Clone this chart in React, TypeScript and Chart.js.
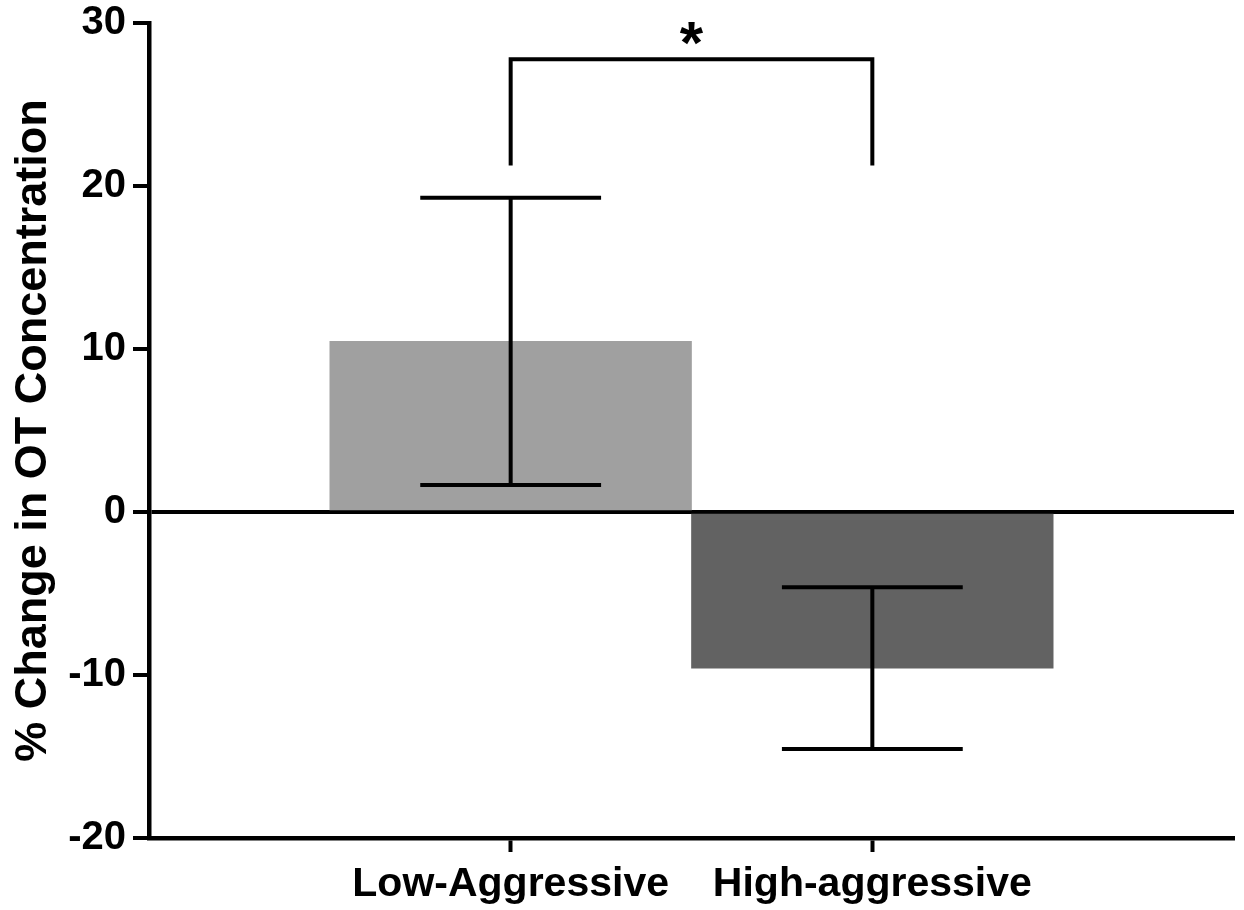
import React, { useEffect, useRef } from 'react';
import { Chart, registerables } from 'chart.js';

Chart.register(...registerables);

// ---- data ----
const categories: string[] = ['', 'Low-Aggressive', 'High-aggressive', ''];
const meanChange: (number | null)[] = [null, 10.47, -9.58, null];
const semChange: (number | null)[] = [null, 8.81, 4.96, null];
const barColors: string[] = ['#a0a0a0', '#a0a0a0', '#626262', '#626262'];
const yMin = -20;
const yMax = 30;
const yStep = 10;
const yTitle = '% Change in OT Concentration';
// significance bracket
const bracketFrom = 1;
const bracketTo = 2;
const bracketTop = 27.77;
const bracketBottom = 21.26;
const sigLabel = '*';

const FONT = '"Liberation Sans", Arial, Helvetica, sans-serif';

const overlayPlugin = {
  id: 'errorBarsAndSig',
  afterDraw(chart: any) {
    const ctx = chart.ctx;
    const y = chart.scales.y;
    const meta = chart.getDatasetMeta(0);
    ctx.save();
    ctx.strokeStyle = '#000';
    ctx.lineWidth = 4;
    ctx.lineCap = 'butt';
    meta.data.forEach((bar: any, i: number) => {
      const m = meanChange[i];
      const s = semChange[i];
      if (m == null || s == null) return;
      const x = bar.x;
      const half = bar.width * 0.25;
      const yt = y.getPixelForValue(m + s);
      const yb = y.getPixelForValue(m - s);
      ctx.beginPath();
      ctx.moveTo(x, yt);
      ctx.lineTo(x, yb);
      ctx.moveTo(x - half, yt);
      ctx.lineTo(x + half, yt);
      ctx.moveTo(x - half, yb);
      ctx.lineTo(x + half, yb);
      ctx.stroke();
    });
    const x1 = meta.data[bracketFrom].x;
    const x2 = meta.data[bracketTo].x;
    const yTop = y.getPixelForValue(bracketTop);
    const yBot = y.getPixelForValue(bracketBottom);
    ctx.lineJoin = 'miter';
    ctx.beginPath();
    ctx.moveTo(x1, yBot);
    ctx.lineTo(x1, yTop);
    ctx.lineTo(x2, yTop);
    ctx.lineTo(x2, yBot);
    ctx.stroke();
    ctx.fillStyle = '#000';
    ctx.font = `bold 60px ${FONT}`;
    ctx.textAlign = 'center';
    ctx.textBaseline = 'alphabetic';
    ctx.fillText(sigLabel, (x1 + x2) / 2, yTop + 4);
    ctx.restore();
  },
};

export default function App() {
  const canvasRef = useRef<HTMLCanvasElement | null>(null);

  useEffect(() => {
    if (!canvasRef.current) return;
    const chart = new Chart(canvasRef.current, {
      type: 'bar',
      data: {
        labels: categories,
        datasets: [
          {
            data: meanChange as any,
            backgroundColor: barColors,
            borderWidth: 0,
            categoryPercentage: 1,
            barPercentage: 1,
          },
        ],
      },
      options: {
        animation: false,
        responsive: true,
        maintainAspectRatio: false,
        layout: { padding: { left: 0, top: 23, right: 10, bottom: 0 } },
        plugins: {
          legend: { display: false },
          tooltip: { enabled: false },
        },
        scales: {
          x: {
            type: 'category',
            offset: false,
            grid: {
              display: true,
              offset: false,
              drawOnChartArea: false,
              drawTicks: true,
              tickLength: 14,
              tickWidth: 4,
              tickColor: (c: any) => (categories[c.index] ? '#000' : 'rgba(0,0,0,0)'),
            },
            border: { display: true, color: '#000', width: 4.5 },
            ticks: {
              color: '#000',
              autoSkip: false,
              maxRotation: 0,
              padding: 8,
              font: { family: FONT, size: 41, weight: 'bold' },
            },
            afterFit: (scale: any) => {
              scale.height = 72;
              scale.paddingLeft = 0;
              scale.paddingRight = 0;
            },
          },
          y: {
            min: yMin,
            max: yMax,
            z: 1,
            grid: {
              display: true,
              drawOnChartArea: true,
              drawTicks: true,
              tickLength: 16,
              tickWidth: 4,
              tickColor: '#000',
              lineWidth: 4,
              color: (c: any) => (c.tick && c.tick.value === 0 ? '#000' : 'rgba(0,0,0,0)'),
            },
            border: { display: true, color: '#000', width: 4.5 },
            ticks: {
              stepSize: yStep,
              color: '#000',
              padding: 7,
              font: { family: FONT, size: 40, weight: 'bold' },
            },
            title: {
              display: true,
              text: yTitle,
              color: '#000',
              padding: { top: 7, bottom: 0 },
              font: { family: FONT, size: 45, weight: 'bold' },
            },
            afterFit: (scale: any) => {
              scale.width = 149;
              scale.paddingTop = 0;
              scale.paddingBottom = 0;
            },
          },
        },
      },
      plugins: [overlayPlugin],
    });
    return () => chart.destroy();
  }, []);

  return (
    <div style={{ position: 'absolute', left: 0, top: 0, width: 1244, height: 910, background: '#fff' }}>
      <canvas ref={canvasRef} />
    </div>
  );
}
